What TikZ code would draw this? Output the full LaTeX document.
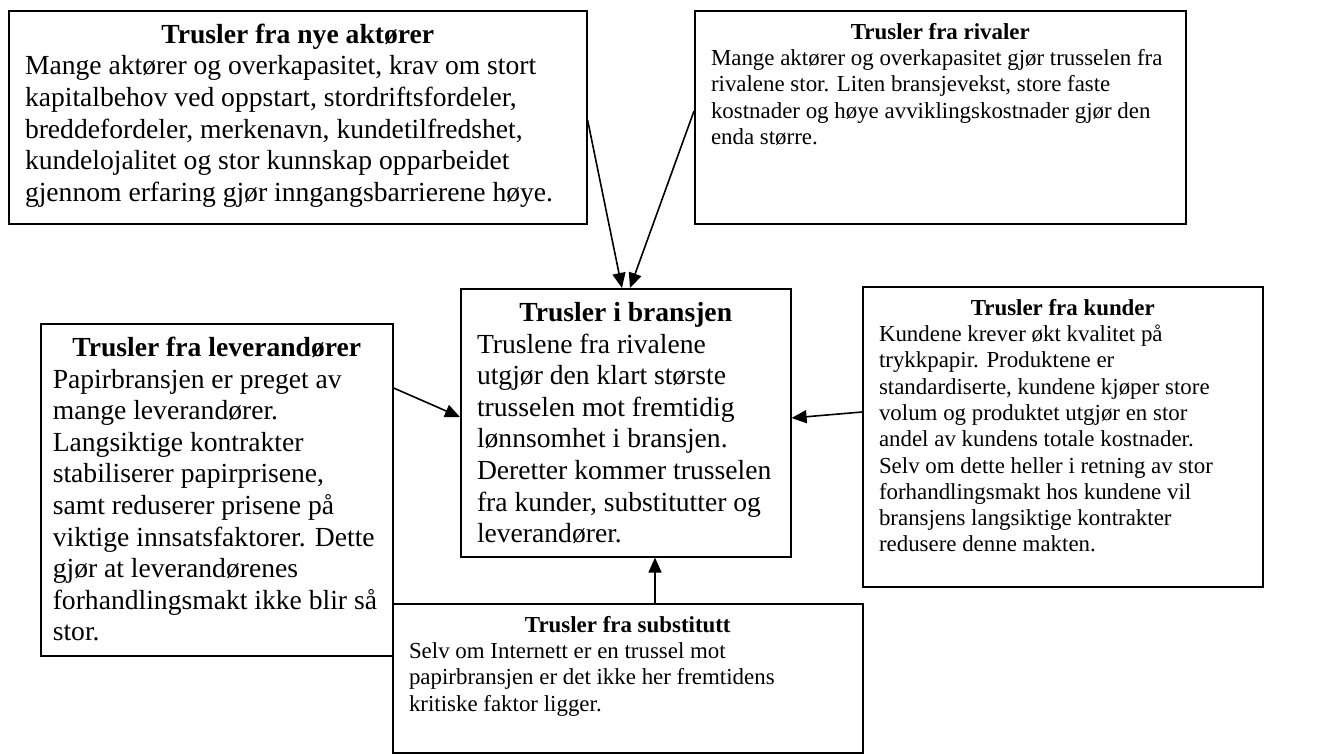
\documentclass[tikz,border=0pt]{standalone}
\usepackage{fontspec}
\setmainfont{Liberation Serif}
\usetikzlibrary{arrows.meta}
% text sizes used in the boxes (1pt of the page = 1px)
\newcommand\sizeL{\fontsize{27.6}{31.6}\selectfont}
\newcommand\sizeS{\fontsize{22.9}{26.3}\selectfont}
% a box text: width, height, bold title, body lines (kept unbroken)
\newcommand\boxtext[4]{\parbox[c][#2][t]{#1}{\setlength\parskip{0pt}%
  \centering\rule{0pt}{0.891em}\textbf{#3}\par
  \raggedright\begin{tabular}[t]{@{}l@{}}#4\end{tabular}}}
\tikzset{
  box/.style={draw, line width=1.6pt, fill=white, anchor=north west,
    inner xsep=16.2pt, inner ysep=8pt},
  boxL/.style={box, font=\sizeL},
  boxS/.style={box, font=\sizeS},
  arr/.style={line width=1.6pt, -{Triangle[length=15pt,width=13pt]}}
}
\begin{document}
\begin{tikzpicture}[x=1pt,y=-1pt]
\useasboundingbox (0,0) rectangle (1325,753);
% threats from new entrants
\node[boxL] (nye) at (8,10) {\boxtext{545.6pt}{197pt}{Trusler fra nye aktører}{%
Mange aktører og overkapasitet, krav om stort\\
kapitalbehov ved oppstart, stordriftsfordeler,\\
breddefordeler, merkenavn, kundetilfredshet,\\
kundelojalitet og stor kunnskap opparbeidet\\
gjennom erfaring gjør inngangsbarrierene høye.}};
% threats from rivals
\node[boxS] (riv) at (694,10) {\boxtext{458.6pt}{197pt}{Trusler fra rivaler}{%
Mange aktører og overkapasitet gjør trusselen fra\\
rivalene stor. Liten bransjevekst, store faste\\
kostnader og høye avviklingskostnader gjør den\\
enda større.}};
% threats from suppliers
\node[boxL, inner xsep=12pt] (lev) at (40,323) {\boxtext{328pt}{316pt}{Trusler fra leverandører}{%
Papirbransjen er preget av\\
mange leverandører.\\
Langsiktige kontrakter\\
stabiliserer papirprisene,\\
samt reduserer prisene på\\
viktige innsatsfaktorer. Dette\\
gjør at leverandørenes\\
forhandlingsmakt ikke blir så\\
stor.}};
% threats in the industry (centre)
\node[boxL] (bra) at (460,288) {\boxtext{297.6pt}{252pt}{Trusler i bransjen}{%
Truslene fra rivalene\\
utgjør den klart største\\
trusselen mot fremtidig\\
lønnsomhet i bransjen.\\
Deretter kommer trusselen\\
fra kunder, substitutter og\\
leverandører.}};
% threats from customers
\node[boxS] (kun) at (862,286) {\boxtext{367.6pt}{284pt}{Trusler fra kunder}{%
Kundene krever økt kvalitet på\\
trykkpapir. Produktene er\\
standardiserte, kundene kjøper store\\
volum og produktet utgjør en stor\\
andel av kundens totale kostnader.\\
Selv om dette heller i retning av stor\\
forhandlingsmakt hos kundene vil\\
bransjens langsiktige kontrakter\\
redusere denne makten.}};
% threats from substitutes
\node[boxS] (sub) at (392,603) {\boxtext{437.6pt}{133pt}{Trusler fra substitutt}{%
Selv om Internett er en trussel mot\\
papirbransjen er det ikke her fremtidens\\
kritiske faktor ligger.}};
% arrows towards the centre box
\draw[arr] ([yshift=-110pt]nye.north east) -- ([xshift=162pt]bra.north west);
\draw[arr] ([yshift=-101pt]riv.north west) -- ([xshift=170pt]bra.north west);
\draw[arr] ([yshift=-65pt]lev.north east) -- ([yshift=-129pt]bra.north west);
\draw[arr] ([yshift=-126pt]kun.north west) -- ([yshift=-130pt]bra.north east);
\draw[arr] ([xshift=263pt]sub.north west) -- ([xshift=195pt]bra.south west);
\end{tikzpicture}
\end{document}
